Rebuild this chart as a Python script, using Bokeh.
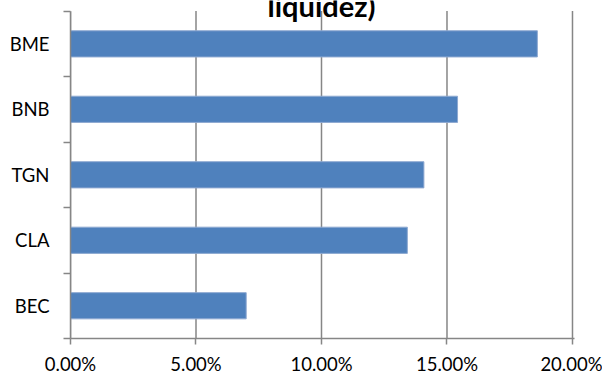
from bokeh.plotting import figure
from bokeh.models import Range1d, FixedTicker, NumeralTickFormatter, Label
from bokeh.embed import file_html
from bokeh.resources import INLINE

# Data (bottom to top)
categories = ["BEC", "CLA", "TGN", "BNB", "BME"]
values = [0.0700, 0.1342, 0.1408, 0.1542, 0.1860]
x_ticks = [0.0, 0.05, 0.10, 0.15, 0.20]
title_text = "liquidez)"

n = len(categories)
centers = [i + 0.5 for i in range(n)]
bounds = list(range(n + 1))

GRAY = "#868686"
FONT = "Lato"
TOP_PAD = 0.162      # empty room above the plot area (for the cut-off title)
X_PAD = 0.0008       # keeps the 20% grid line fully visible

p = figure(width=602, height=377,
           x_range=Range1d(0, x_ticks[-1] + X_PAD), y_range=Range1d(0, n + TOP_PAD),
           output_backend="svg", toolbar_location=None,
           min_border_left=70, min_border_right=28, min_border_top=0, min_border_bottom=36)
p.outline_line_color = None
p.background_fill_color = "white"
p.border_fill_color = "white"
p.xgrid.grid_line_color = None
p.ygrid.grid_line_color = None

# vertical grid lines, stopping at the top of the plot area
p.segment(x0=x_ticks, y0=[0] * len(x_ticks), x1=x_ticks, y1=[n] * len(x_ticks),
          line_color=GRAY, line_width=1.5)

p.hbar(y=centers, right=values, left=0, height=0.4,
       fill_color="#4F81BD", line_color="#8EA9D1", line_width=1)

# x axis
xa = p.xaxis[0]
xa.ticker = FixedTicker(ticks=x_ticks)
xa.formatter = NumeralTickFormatter(format="0.00%")
xa.axis_line_color = GRAY
xa.axis_line_width = 1.5
xa.major_tick_line_color = GRAY
xa.major_tick_line_width = 1.5
xa.major_tick_out = 6
xa.major_tick_in = 0
xa.minor_tick_line_color = None
xa.major_label_text_font = FONT
xa.major_label_text_font_size = "18.5px"
xa.major_label_text_color = "black"
xa.major_label_standoff = 8

# y axis
ya = p.yaxis[0]
ya.bounds = (0, n)
ya.ticker = FixedTicker(ticks=centers, minor_ticks=bounds)
ya.major_label_overrides = {c: name for c, name in zip(centers, categories)}
ya.axis_line_color = GRAY
ya.axis_line_width = 1.5
ya.major_tick_line_color = None
ya.major_tick_out = 0
ya.major_tick_in = 0
ya.minor_tick_line_color = GRAY
ya.minor_tick_line_width = 1.5
ya.minor_tick_out = 7
ya.minor_tick_in = 0
ya.major_label_text_font = FONT
ya.major_label_text_font_size = "18.5px"
ya.major_label_text_color = "black"
ya.major_label_standoff = 14

title = Label(x=x_ticks[-1] / 2, y=n + 0.086, text=title_text, text_align="center",
              text_baseline="alphabetic", text_font=FONT, text_font_style="bold",
              text_font_size="29px", text_color="black")
p.add_layout(title)

open("out.html", "w").write(file_html(p, INLINE))
